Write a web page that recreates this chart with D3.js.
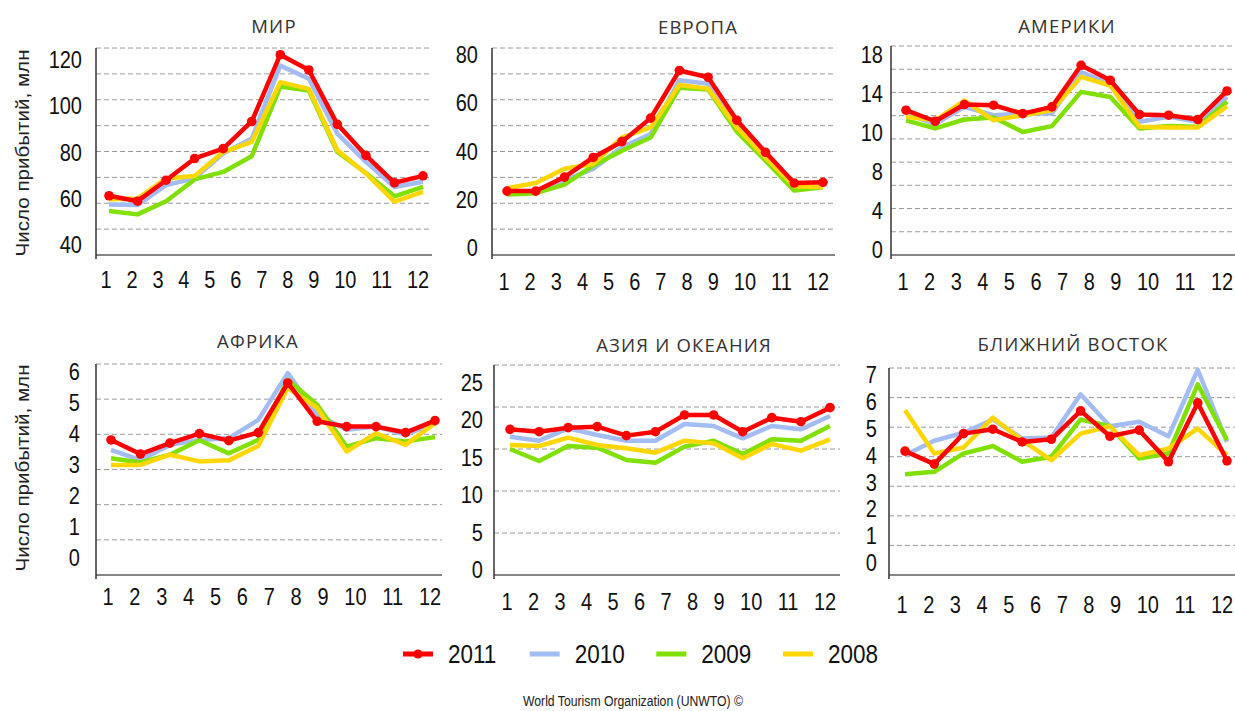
<!DOCTYPE html>
<meta charset="utf-8">
<style>
body { margin: 0; background: #fff; }
text { font-family: "Liberation Sans", Arial, sans-serif; fill: #111; }
.title { font-family: "Open Sans", sans-serif; font-size: 18.5px; letter-spacing: 1.2px; fill: #333; }
.grid line { stroke: #9a9a9a; stroke-dasharray: 5,3; }
</style>
<svg width="1235" height="711"></svg>
<script src="https://cdn.jsdelivr.net/npm/d3@7"></script>
<script>

var months = [1, 2, 3, 4, 5, 6, 7, 8, 9, 10, 11, 12];
var years = ["2011", "2010", "2009", "2008"];

// values in millions, 2011 / 2010 / 2009 / 2008
var mir2011 = [62.9, 60.8, 68.9, 77.3, 81.1, 91.6, 117.4, 111.5, 90.5, 78.5, 67.9, 70.6];
var mir2010 = [59.5, 59.3, 67.0, 69.6, 79.2, 85.0, 113.2, 108.1, 86.9, 76.0, 66.3, 68.3];
var mir2009 = [57.0, 55.7, 60.8, 69.2, 72.1, 78.2, 105.1, 103.6, 79.8, 71.7, 62.7, 66.3];
var mir2008 = [61.5, 61.8, 69.6, 70.5, 79.8, 83.7, 106.8, 104.2, 80.5, 71.5, 60.6, 64.4];

var eur2011 = [24.7, 24.7, 30.1, 37.7, 43.8, 52.9, 71.3, 68.7, 52.1, 39.7, 27.8, 28.1];
var eur2010 = [24.3, 24.3, 28.8, 33.3, 41.6, 46.7, 67.5, 66.2, 50.6, 38.4, 26.9, 26.9];
var eur2009 = [23.4, 23.9, 27.2, 34.5, 40.3, 45.4, 64.6, 64.0, 47.7, 36.5, 24.9, 26.2];
var eur2008 = [25.8, 27.8, 33.3, 35.2, 45.4, 49.3, 65.7, 64.3, 49.3, 37.7, 26.6, 26.2];

var ame2011 = [12.47, 11.52, 12.96, 12.9, 12.18, 12.76, 16.34, 15.05, 12.1, 12.04, 11.67, 14.13];
var ame2010 = [12.18, 11.27, 12.76, 12.04, 12.18, 12.18, 15.76, 14.76, 11.47, 11.9, 11.47, 13.6];
var ame2009 = [11.6, 10.9, 11.67, 11.84, 10.6, 11.1, 14.05, 13.6, 10.9, 11.1, 11.04, 13.2];
var ame2008 = [11.9, 11.6, 13.3, 11.6, 12.04, 12.47, 15.34, 14.6, 11.04, 10.98, 10.98, 12.8];

var afr2011 = [3.84, 3.44, 3.75, 4.02, 3.82, 4.05, 5.46, 4.37, 4.22, 4.22, 4.05, 4.39];
var afr2010 = [3.56, 3.27, 3.70, 3.84, 3.89, 4.41, 5.74, 4.56, 4.13, 4.22, 3.99, 4.32];
var afr2009 = [3.32, 3.20, 3.42, 3.83, 3.46, 3.84, 5.55, 4.84, 3.65, 3.89, 3.80, 3.92];
var afr2008 = [3.13, 3.13, 3.42, 3.23, 3.26, 3.67, 5.32, 4.75, 3.51, 4.03, 3.70, 4.32];

var asi2011 = [17.34, 17.06, 17.54, 17.66, 16.59, 17.06, 19.05, 19.05, 17.06, 18.73, 18.25, 19.92];
var asi2010 = [16.47, 15.99, 17.46, 16.67, 15.99, 15.99, 17.98, 17.74, 16.27, 17.74, 17.34, 18.93];
var asi2009 = [15.0, 13.57, 15.36, 15.16, 13.69, 13.37, 15.28, 15.99, 14.4, 16.15, 15.99, 17.74];
var asi2008 = [15.48, 15.36, 16.35, 15.48, 15.08, 14.56, 15.99, 15.67, 13.89, 15.6, 14.8, 16.15];

var mid2011 = [4.19, 3.75, 4.78, 4.93, 4.50, 4.59, 5.55, 4.69, 4.9, 3.83, 5.82, 3.86];
var mid2010 = [4.05, 4.54, 4.81, 5.26, 4.62, 4.65, 6.11, 5.03, 5.18, 4.69, 6.94, 4.5];
var mid2009 = [3.41, 3.49, 4.11, 4.36, 3.83, 4.0, 5.26, 5.03, 3.94, 4.11, 6.45, 4.56];
var mid2008 = [5.57, 4.11, 4.31, 5.32, 4.56, 3.88, 4.78, 5.03, 4.05, 4.28, 4.95, 4.05];

var titles = ["МИР", "ЕВРОПА", "АМЕРИКИ", "АФРИКА", "АЗИЯ И ОКЕАНИЯ", "БЛИЖНИЙ ВОСТОК"];
var yDomains = [[40, 120], [0, 80], [0, 18], [0, 6], [0, 25], [0, 7]];
var gridSteps = [10, 10, 2, 1, 5, 1];
var yLabels = [
  [120, 100, 80, 60, 40],
  [80, 60, 40, 20, 0],
  [18, 14, 10, 8, 4, 0],
  [6, 5, 4, 3, 2, 1, 0],
  [25, 20, 15, 10, 5, 0],
  [7, 6, 5, 4, 3, 2, 1, 0]
];
var series = [
  [mir2011, mir2010, mir2009, mir2008],
  [eur2011, eur2010, eur2009, eur2008],
  [ame2011, ame2010, ame2009, ame2008],
  [afr2011, afr2010, afr2009, afr2008],
  [asi2011, asi2010, asi2009, asi2008],
  [mid2011, mid2010, mid2009, mid2008]
];
var yTitle = "Число прибытий, млн";
var footer = "World Tourism Organization (UNWTO) ©";

var colors = {"2011": "#ff0000", "2010": "#a3bcf3", "2009": "#80e000", "2008": "#ffd600"};
var drawOrder = ["2010", "2009", "2008", "2011"];

// panel layout
var layout = [
  {left: 96,  right: 432,  x0: 109, x1: 423,  top: 48,  bottom: 255, tx: 274,  ty: 33,  lt: 12, lb: 10, lgap: 14, xl: 280},
  {left: 492, right: 835,  x0: 507, x1: 823,  top: 48,  bottom: 255, tx: 698,  ty: 34,  lt: 7,  lb: 7,  lgap: 14, xl: 282},
  {left: 891, right: 1240, x0: 906, x1: 1227, top: 46,  bottom: 255, tx: 1067, ty: 33,  lt: 9,  lb: 5,  lgap: 8,  xl: 282},
  {left: 96,  right: 442,  x0: 111, x1: 435,  top: 364, bottom: 575, tx: 258,  ty: 348, lt: 8,  lb: 17, lgap: 16, xl: 597},
  {left: 494, right: 840,  x0: 510, x1: 830,  top: 365, bottom: 575, tx: 684,  ty: 352, lt: 18, lb: 5,  lgap: 11, xl: 602},
  {left: 889, right: 1240, x0: 905, x1: 1227, top: 368, bottom: 575, tx: 1073, ty: 351, lt: 7,  lb: 12, lgap: 12, xl: 605}
];

var svg = d3.select("svg");
var stretch = 1.18;

layout.forEach(function(p, i) {
  var g = svg.append("g");
  var x = d3.scalePoint().domain(months).range([p.x0, p.x1]);
  var y = d3.scaleLinear().domain(yDomains[i]).range([p.bottom, p.top]);

  var dom = yDomains[i];
  var grid = d3.range(dom[0] + gridSteps[i], dom[1] + gridSteps[i] / 2, gridSteps[i]);
  g.append("g").attr("class", "grid")
    .selectAll("line").data(grid).enter().append("line")
      .attr("x1", p.left).attr("x2", p.right)
      .attr("y1", function(d) { return y(d); })
      .attr("y2", function(d) { return y(d); });

  g.append("line")
    .attr("x1", p.left).attr("x2", p.right)
    .attr("y1", p.bottom).attr("y2", p.bottom)
    .attr("stroke", "#858585").attr("stroke-width", 2);
  g.append("line")
    .attr("x1", p.left).attr("x2", p.left)
    .attr("y1", p.top).attr("y2", p.bottom + 4)
    .attr("stroke", "#333").attr("stroke-width", 1.5);

  // tick labels on the y side are spread evenly, as in the source
  var ly = d3.scalePoint().domain(yLabels[i]).range([p.top + p.lt, p.bottom - p.lb]);
  g.selectAll(".ylab").data(yLabels[i]).enter().append("text")
    .attr("class", "ylab")
    .attr("transform", function(d) { return "translate(" + (p.left - p.lgap) + "," + ly(d) + ") scale(1," + stretch + ")"; })
    .attr("text-anchor", "end")
    .attr("dominant-baseline", "central")
    .style("font-size", "20px")
    .text(function(d) { return d; });

  // month labels flow along the row
  var xl = g.selectAll(".xlab").data(months).enter().append("text")
    .attr("class", "xlab")
    .attr("text-anchor", "middle")
    .attr("dominant-baseline", "central")
    .style("font-size", "20px")
    .text(function(d) { return d; });
  var w = [];
  xl.each(function() { w.push(this.getComputedTextLength()); });
  var a = x(1) - 3, b = x(12) - 5;
  var inner = w[0] / 2 + w[w.length - 1] / 2 + d3.sum(w.slice(1, -1));
  var gap = (b - a - inner) / (w.length - 1);
  var cx = [a];
  for (var k = 1; k < w.length; k++) cx.push(cx[k - 1] + w[k - 1] / 2 + gap + w[k] / 2);
  xl.attr("transform", function(d, k) { return "translate(" + cx[k] + "," + p.xl + ") scale(1," + stretch + ")"; });

  g.append("text").attr("class", "title")
    .attr("x", p.tx).attr("y", p.ty)
    .attr("text-anchor", "middle")
    .text(titles[i]);

  var line = d3.line()
    .x(function(d, k) { return x(months[k]); })
    .y(function(d) { return y(d); });

  drawOrder.forEach(function(yr) {
    var vals = series[i][years.indexOf(yr)];
    g.append("path")
      .attr("d", line(vals))
      .attr("fill", "none")
      .attr("stroke", colors[yr])
      .attr("stroke-width", 4.5)
      .attr("stroke-linejoin", "round");
    if (yr == "2011") {
      g.selectAll(".dot").data(vals).enter().append("circle")
        .attr("class", "dot")
        .attr("cx", function(d, k) { return x(months[k]); })
        .attr("cy", function(d) { return y(d); })
        .attr("r", 4.8)
        .attr("fill", colors[yr]);
    }
  });
});

// y axis titles for the left column
[153, 468].forEach(function(cy) {
  svg.append("text")
    .attr("transform", "translate(22," + cy + ") rotate(-90)")
    .attr("text-anchor", "middle")
    .attr("dominant-baseline", "central")
    .attr("textLength", 207)
    .attr("lengthAdjust", "spacingAndGlyphs")
    .style("font-size", "19px")
    .style("fill", "#222")
    .text(yTitle);
});

// legend
var lx = d3.scalePoint().domain(years).range([403, 783]);
var leg = svg.append("g").selectAll("g").data(years).enter().append("g")
  .attr("transform", function(d) { return "translate(" + lx(d) + ",654)"; });
leg.append("line")
  .attr("x1", 0).attr("x2", 30)
  .attr("stroke", function(d) { return colors[d]; })
  .attr("stroke-width", 5);
leg.filter(function(d) { return d == "2011"; }).append("circle")
  .attr("cx", 15).attr("r", 4.5).attr("fill", colors["2011"]);
leg.append("text")
  .attr("transform", "translate(45,0) scale(1," + stretch + ")")
  .attr("dominant-baseline", "central")
  .style("font-size", "22.5px")
  .text(function(d) { return d; });

svg.append("text")
  .attr("x", 633).attr("y", 706)
  .attr("text-anchor", "middle")
  .attr("textLength", 220)
  .attr("lengthAdjust", "spacingAndGlyphs")
  .style("font-size", "14px")
  .style("fill", "#222")
  .text(footer);

</script>
